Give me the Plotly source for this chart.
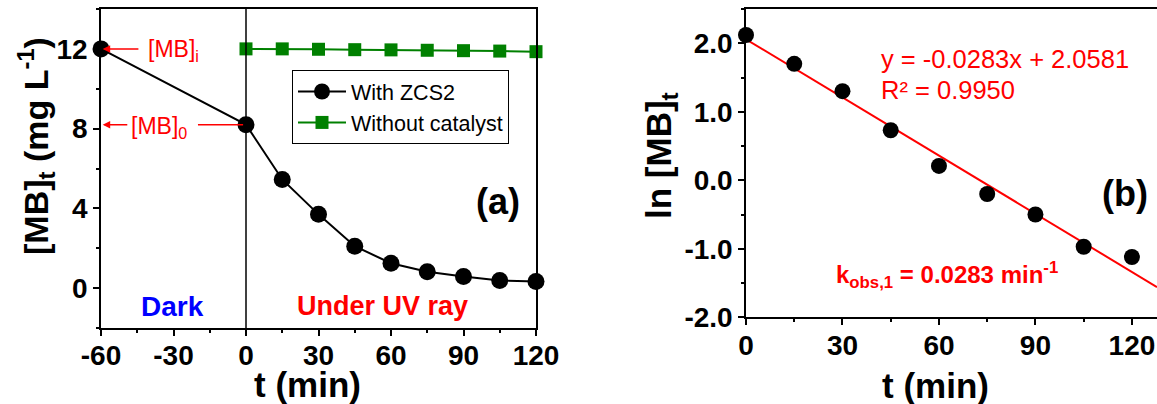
import plotly.graph_objects as go

# ---------------- data ----------------
t_zcs2 = [-60, 0, 15, 30, 45, 60, 75, 90, 105, 120]
mb_zcs2 = [12.0, 8.2, 5.45, 3.7, 2.1, 1.25, 0.82, 0.58, 0.38, 0.33]

t_blank = [0, 15, 30, 45, 60, 75, 90, 105, 120]
mb_blank = [12.0, 12.0, 11.98, 11.96, 11.95, 11.93, 11.91, 11.89, 11.86]

t_ln = [0, 15, 30, 45, 60, 75, 90, 105, 120]
ln_mb = [2.12, 1.70, 1.30, 0.73, 0.21, -0.20, -0.50, -0.97, -1.12]

fit_slope = -0.0283
fit_intercept = 2.0581
fit_t = [0, 127.8]
fit_y = [fit_slope * t + fit_intercept for t in fit_t]

left_xticks = [-60, -30, 0, 30, 60, 90, 120]
left_yticks = [0, 4, 8, 12]
right_xticks = [0, 30, 60, 90, 120]
right_yticks = [-2.0, -1.0, 0.0, 1.0, 2.0]

# ---------------- layout helpers ----------------
W, H = 1157, 404
FONT = "Liberation Sans, Arial, sans-serif"


def px(x):
    return x / W


def py(y):
    return 1 - y / H


fig = go.Figure()

fig.add_trace(go.Scatter(
    x=t_zcs2, y=mb_zcs2, mode="lines+markers", name="With ZCS2",
    line=dict(color="black", width=2),
    marker=dict(symbol="circle", size=17, color="black"),
    xaxis="x", yaxis="y", cliponaxis=False,
))
fig.add_trace(go.Scatter(
    x=t_blank, y=mb_blank, mode="lines+markers", name="Without catalyst",
    line=dict(color="#008000", width=2),
    marker=dict(symbol="square", size=13, color="#008000"),
    xaxis="x", yaxis="y", cliponaxis=False,
))
fig.add_trace(go.Scatter(
    x=fit_t, y=fit_y, mode="lines", showlegend=False,
    line=dict(color="#ff0000", width=2),
    xaxis="x2", yaxis="y2",
))
fig.add_trace(go.Scatter(
    x=t_ln, y=ln_mb, mode="markers", showlegend=False,
    marker=dict(symbol="circle", size=16, color="black"),
    xaxis="x2", yaxis="y2", cliponaxis=False,
))

tickfont = dict(family=FONT, size=28, color="black", weight="bold")
axis_common = dict(
    showline=True, linecolor="black", linewidth=1.5,
    ticks="outside", ticklen=6, tickwidth=1.5, tickcolor="black",
    showgrid=False, zeroline=False, tickfont=tickfont, automargin=False,
)
minor_common = dict(ticks="outside", ticklen=3, tickcolor="black", tickwidth=1.5)

fig.update_layout(
    width=W, height=H,
    margin=dict(l=0, r=0, t=0, b=0, autoexpand=False),
    paper_bgcolor="white", plot_bgcolor="white",
    font=dict(family=FONT, color="black"),
    showlegend=True,
    legend=dict(
        x=px(292), y=py(70), xanchor="left", yanchor="top",
        bordercolor="black", borderwidth=1, bgcolor="white",
        font=dict(family=FONT, size=21.5, color="black"),
        tracegroupgap=0, itemwidth=48,
    ),
    xaxis=dict(
        domain=[px(101), px(536)], range=[-60, 120], anchor="y",
        tickvals=left_xticks, ticktext=[str(v) for v in left_xticks],
        minor=dict(dtick=15, tick0=-60, **minor_common),
        mirror=True, ticklabelstandoff=-4, **axis_common,
    ),
    yaxis=dict(
        domain=[py(328), py(9)], range=[-2, 14], anchor="x",
        tickvals=left_yticks, ticktext=[str(v) for v in left_yticks],
        minor=dict(dtick=2, tick0=0, **minor_common),
        mirror=True, **axis_common,
    ),
    xaxis2=dict(
        domain=[px(746), 1.0], range=[0, 127.8], anchor="y2",
        tickvals=right_xticks, ticktext=[str(v) for v in right_xticks],
        minor=dict(dtick=15, tick0=0, **minor_common),
        mirror=True, ticklabelstandoff=-4, **axis_common,
    ),
    yaxis2=dict(
        domain=[py(317.3), py(9)], range=[-2, 2.5], anchor="x2",
        tickvals=right_yticks, ticktext=[f"{v:.1f}" for v in right_yticks],
        minor=dict(dtick=0.5, tick0=0, **minor_common),
        **axis_common,
    ),
)

# vertical separator at t = 0
fig.add_shape(type="line", xref="x", yref="y domain", x0=0, x1=0, y0=0, y1=1,
              line=dict(color="black", width=1.5))

ann = []
red = "#ff0000"


def label(text, x, y, size, color="black", xanchor="center", **kw):
    ann.append(dict(text=text, xref="paper", yref="paper", x=px(x), y=py(y),
                    xanchor=xanchor, yanchor="middle", showarrow=False,
                    font=dict(family=FONT, size=size, color=color), **kw))


# axis titles
label("<b>[MB]<sub>t</sub> (mg L<sup>-1</sup>)</b>", 36, 146, 34, textangle=-90)
label("<b>t (min)</b>", 307, 384, 35)
label("<b>ln [MB]<sub>t</sub></b>", 661, 156, 35, textangle=-90)
label("<b>t (min)</b>", 935, 385, 35)
# panel labels
label("<b>(a)</b>", 498, 201, 36)
label("<b>(b)</b>", 1125, 193, 36)
# dark / UV labels
label("<b>Dark</b>", 172, 306, 28, color="#0000ff")
label("<b>Under UV ray</b>", 382, 306, 27, color=red)
# [MB]i and [MB]0 labels
label("[MB]<sub>i</sub>", 146, 50, 23, color=red, xanchor="left")
label("[MB]<sub>0</sub>", 129, 127, 23, color=red, xanchor="left")
# arrows
ann.append(dict(text="", xref="x", yref="y", x=-59.3, y=12, axref="x", ayref="y", ax=-43.9, ay=12,
                showarrow=True, arrowhead=2, arrowsize=1, arrowwidth=1.5, arrowcolor=red))
ann.append(dict(text="", xref="x", yref="y", x=-59.3, y=8.2, axref="x", ayref="y", ax=-48.5, ay=8.2,
                showarrow=True, arrowhead=2, arrowsize=1, arrowwidth=1.5, arrowcolor=red))
ann.append(dict(text="", xref="x", yref="y", x=-1.2, y=8.2, axref="x", ayref="y", ax=-20.5, ay=8.2,
                showarrow=True, arrowhead=0, arrowwidth=1.5, arrowcolor=red))
# fit equation
label("y = -0.0283x + 2.0581", 879, 59, 25.5, color=red, xanchor="left")
label("R² = 0.9950", 879, 90, 25.5, color=red, xanchor="left")
label("<b>k<sub>obs,1</sub> = 0.0283 min<sup>-1</sup></b>", 834, 275, 24, color=red, xanchor="left")

fig.update_layout(annotations=ann)

fig.write_html("out.html")
